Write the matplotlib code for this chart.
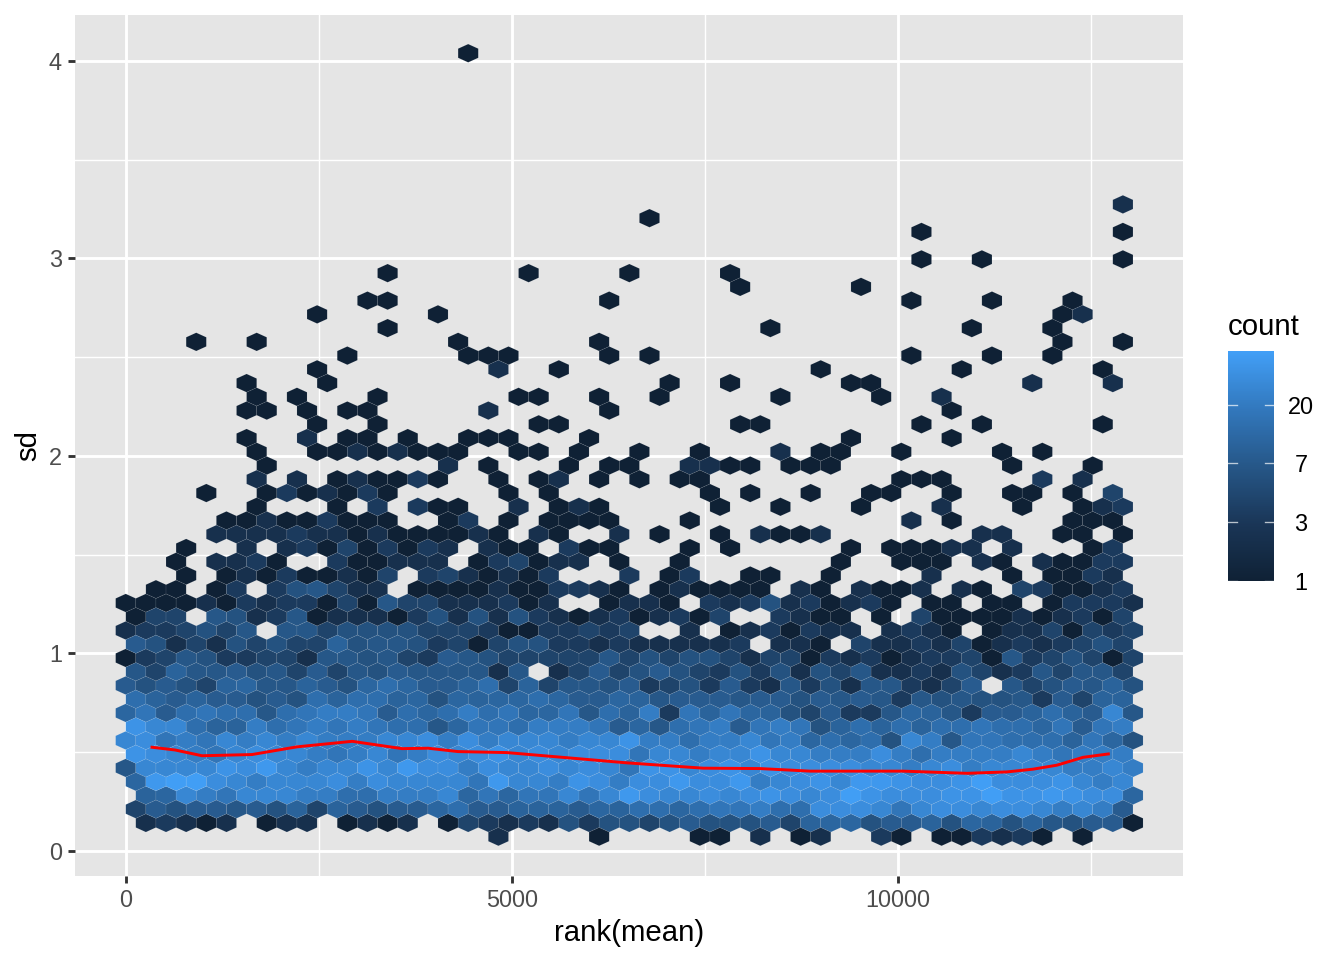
import numpy as np
import matplotlib
matplotlib.use('Agg')
import matplotlib.pyplot as plt
from matplotlib.colors import LinearSegmentedColormap, LogNorm

plt.rcParams['font.family'] = ['Liberation Sans', 'DejaVu Sans']

# hex counts. key = hex row, each string = columns 0-16, 17-33, 34-50
# '.' is an empty cell, other characters are looked up in count_codes
count_codes = {'1': 1, '2': 2, '3': 3, '4': 4, '5': 6, '6': 7, '7': 8, '8': 10, '9': 11,
               'a': 14, 'b': 17, 'c': 21, 'd': 27, 'e': 32, 'f': 37, 'g': 42, 'h': 48}
hex_rows = {
    -1: "................." ".2....1....11.2.1" "2..31.113231.1...",
    0: ".23212.122.1212.1" "43232535545755574" "89957785985865771",
    1: "4757767584875779a" "77888798aa9abbcaa" "eeedbdeedeedcdc7.",
    2: ".89dcbdddccaacccd" "9b9bbdbdgeddedefe" "dehfeeeffhffgfee9",
    3: "9ghhedcdddecedddd" "bgddcfeceegeegcde" "fdggfeefheeefdcd.",
    4: "6ddddfegdcddfdgee" "ceddededbffdefdfe" "eeeddcdecddddccdc",
    5: "fedcbdeddcbcdbced" "efdedeeebddcddfdd" "cccecaccccdcbccc.",
    6: "debcbdcdcdcccddec" "ecdddcddfccaccdbc" "9a9a5dc6bbaaa8b95",
    7: "fdda88cabcbcbaa69" "bbacccb796abc7bcb" "58a8a8aabaa9b7bc.",
    8: "9b7abaa6abccb7a9a" "cab99b6a8c3b8b985" "473369863778a87d6",
    9: "a87877575a8aa8959" "899a9779867776775" "7676365655637488.",
    10: "7575489668759a977" "8a484665734537326" "352663247.6457685",
    11: "64866756474657666" "626.2474575435352" "5462232542364664.",
    12: "13465334426656437" "65444446454554244" "13231233416345414",
    13: "75242545448566534" "14553323222223.22" "1.42232412323454.",
    14: "2334546.664555544" "431133434..2.1231" "322.2321.12241434",
    15: "144.6523612221352" "5253212312314..32" "11.1.41111212314.",
    16: "11112132331416442" "22312..1221.32352" "31231.11.11.13332",
    17: ".11.13.356422.111" "12113321.121111.2" "1.2112.21.431123.",
    18: "...1.121311214.34" "21213...3.13..11." ".1....2...1.1132.",
    19: "..1.2231..311222." "134122.1..1......" ".1..111.21.21133.",
    20: "...1..2.231413132" ".211.311...1.1..." "..1.11122.2...13.",
    21: "....2222322121111" "21.21..2.1..1.211" "2.......22..11.1.",
    22: ".....112113111..1" "3.1.1111...1....." ".....2.1.....111.",
    23: "......1...1.3.311" "..2.121.....1..1." "..1...2...1..123.",
    24: "....1..1312131..." "..1.1.......1.1.." "1..11..1..11.1.4.",
    25: "......2.2.121131." ".1.12.1.1.11....." "....111....3.2...",
    26: ".......1........2" ".1...1.11..2211.1" "11........1...1..",
    27: "......1..11212111" "..11.1..1..1...2." "11..1....1.1.....",
    28: "......1..2.11.1.." "111...1.........." "..1....1.........",
    29: ".........1..1...." "...11........11.." ".....1..1.....1..",
    30: "......11.1.11...." ".2.....1........." ".......1.........",
    31: "......1.1...1...." "..11..1..1.....1." "...1..2..........",
    32: "......1...1......" "..........1..1..." "..11.......2...2.",
    33: ".........1......." ".2..1............" "1......1......1..",
    34: "...........1....." "111....1.1......." ".....1...1..1....",
    35: "...1..1.........1" "......1.........." "............1..1.",
    36: ".............1..." "...............1." "........1...1....",
    37: ".........1.....1." "................." "............12...",
    38: "............11..." ".......1........." ".....1...1...1...",
    39: "................." ".............1..." "..1..............",
    40: ".............1..." "...1....1....1..." ".................",
    41: "................." "................." ".....1..1......1.",
    43: "................." "................." ".....1.........1.",
    44: "................." ".........1......." ".................",
    45: "................." "................." "...............2.",
    56: "................." "1................" ".................",
}

# running median of sd (red line)
trend_rank = [337, 638, 984, 1631, 2214, 2930, 3574, 3914, 4303, 4933, 6487, 7475,
              8213, 8861, 10065, 10890, 11408, 11748, 12055, 12396, 12723]
trend_sd = [0.525, 0.511, 0.482, 0.488, 0.527, 0.555, 0.518, 0.520, 0.503, 0.498, 0.446, 0.419,
            0.417, 0.404, 0.404, 0.393, 0.400, 0.414, 0.434, 0.474, 0.491]

x_ticks = [0, 5000, 10000]
x_minor = [2500, 7500, 12500]
y_ticks = [0, 1, 2, 3, 4]
y_minor = [0.5, 1.5, 2.5, 3.5]
legend_counts = [1, np.e, np.e ** 2, np.e ** 3]
legend_labels = ['1', '3', '7', '20']

# size of one hexagon step in data units
hex_dx = 260.9
hex_dy = 0.0696
hex_y0 = 0.1418
count_max = 50

rank = []
sd = []
count = []
for row, text in hex_rows.items():
    for col, ch in enumerate(text):
        if ch == '.':
            continue
        rank.append(col * hex_dx + (row % 2) * hex_dx / 2 - 3)
        sd.append(hex_y0 + row * hex_dy)
        count.append(count_codes[ch])

cmap = LinearSegmentedColormap.from_list('count', [(0, '#0f2135'), (0.25, '#1a3657'), (0.5, '#265788'),
                                                   (0.75, '#3278bd'), (1, '#429ff7')])

fig = plt.figure(figsize=(7, 5), dpi=192)
ax = fig.add_axes([75 / 1344, (960 - 876) / 960, (1183 - 75) / 1344, (876 - 15) / 960])
ax.set_facecolor('#e5e5e5')
ax.set_axisbelow(True)

# extent starts one row below row -1 so the two hexbin lattices line up with the rows
extent = (-3, -3 + 50 * hex_dx, hex_y0 - 2 * hex_dy, hex_y0 + 56 * hex_dy)
hb = ax.hexbin(rank, sd, C=count, reduce_C_function=np.sum, gridsize=(50, 29), extent=extent,
               cmap=cmap, norm=LogNorm(vmin=1, vmax=count_max),
               edgecolors=(1, 1, 1, 0.12), linewidths=0.2, zorder=2)
ax.plot(trend_rank, trend_sd, color='red', lw=1.1, zorder=3)

ax.set_xlim(-660, 13690)
ax.set_ylim(-0.127, 4.233)
ax.set_xticks(x_ticks)
ax.set_yticks(y_ticks)
ax.set_xticks(x_minor, minor=True)
ax.set_yticks(y_minor, minor=True)
ax.grid(True, which='major', color='white', lw=1.07)
ax.grid(True, which='minor', color='white', lw=0.53)
ax.tick_params(which='major', length=2.75, width=1.07, color='#333333', labelcolor='#4d4d4d',
               labelsize=8.8, pad=2.2)
ax.tick_params(which='minor', length=0)
for s in ax.spines.values():
    s.set_visible(False)
ax.set_xlabel('rank(mean)', fontsize=11, labelpad=2.7)
ax.set_ylabel('sd', fontsize=11, labelpad=2.5)

# legend
cax = fig.add_axes([1228 / 1344, (960 - 581) / 960, 46 / 1344, 230 / 960])
cbar = fig.colorbar(hb, cax=cax)
cbar.outline.set_visible(False)
cbar.set_ticks(legend_counts, labels=legend_labels)
cax.minorticks_off()
cax.tick_params(length=0, labelsize=8.8, pad=10.1, labelcolor='black')
for t in cax.yaxis.get_ticklabels():
    t.set_ha('center')
for v in legend_counts:
    cax.plot([0, 0.2], [v, v], color='white', lw=0.5, alpha=0.7, transform=cax.get_yaxis_transform())
    cax.plot([0.8, 1], [v, v], color='white', lw=0.5, alpha=0.7, transform=cax.get_yaxis_transform())
fig.text(1228 / 1344, (960 - 327) / 960, 'count', fontsize=11, ha='left', va='center')

fig.savefig('out.png', dpi=192, facecolor='white')
